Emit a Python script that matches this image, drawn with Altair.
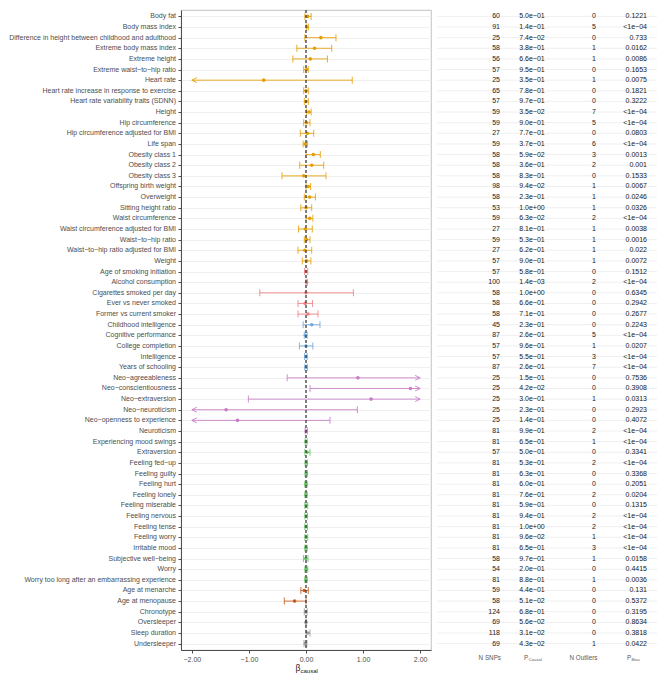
import altair as alt
import pandas as pd

labels = [
    "Body fat", "Body mass index", "Difference in height between childhood and adulthood",
    "Extreme body mass index", "Extreme height", "Extreme waist−to−hip ratio", "Heart rate",
    "Heart rate increase in response to exercise", "Heart rate variability traits (SDNN)",
    "Height", "Hip circumference", "Hip circumference adjusted for BMI", "Life span",
    "Obesity class 1", "Obesity class 2", "Obesity class 3", "Offspring birth weight",
    "Overweight", "Sitting height ratio", "Waist circumference",
    "Waist circumference adjusted for BMI", "Waist−to−hip ratio",
    "Waist−to−hip ratio adjusted for BMI", "Weight",
    "Age of smoking initiation", "Alcohol consumption", "Cigarettes smoked per day",
    "Ever vs never smoked", "Former vs current smoker",
    "Childhood intelligence", "Cognitive performance", "College completion", "Intelligence",
    "Years of schooling",
    "Neo−agreeableness", "Neo−conscientiousness", "Neo−extraversion", "Neo−neuroticism",
    "Neo−openness to experience", "Neuroticism",
    "Experiencing mood swings", "Extraversion", "Feeling fed−up", "Feeling guilty",
    "Feeling hurt", "Feeling lonely", "Feeling miserable", "Feeling nervous", "Feeling tense",
    "Feeling worry", "Irritable mood", "Subjective well−being", "Worry",
    "Worry too long after an embarrassing experience",
    "Age at menarche", "Age at menopause",
    "Chronotype", "Oversleeper", "Sleep duration", "Undersleeper",
]
groups = (["Anthropometric"] * 24 + ["Smoking"] * 5 + ["Cognitive"] * 5 +
          ["Personality"] * 6 + ["Mood"] * 14 + ["Reproductive"] * 2 + ["Sleep"] * 4)

beta = [0.03, 0.02, 0.26, 0.15, 0.075, 0.01, -0.74, 0.0, 0.0, 0.05,
        0.01, 0.025, -0.015, 0.13, 0.10, -0.04, 0.04, 0.065, 0.0, 0.065,
        -0.01, 0.01, -0.02, 0.01,
        0.0, 0.01, 0.0, -0.015, 0.035,
        0.10, -0.01, 0.0, 0.0, 0.0,
        0.91, 1.83, 1.14, -1.40, -1.20, 0.005,
        0.0, 0.02, 0.005, 0.005, 0.0, 0.0, 0.005, 0.005, 0.0, 0.005, 0.0, -0.005, 0.005, 0.0,
        -0.03, -0.20,
        -0.005, 0.0, 0.03, -0.01]
ci_low = [-0.02, 0.005, -0.02, -0.16, -0.23, -0.04, -2.29, -0.04, -0.03, 0.01,
          -0.04, -0.10, -0.05, 0.0, -0.11, -0.42, 0.0, -0.03, -0.09, 0.0,
          -0.13, -0.03, -0.14, -0.065,
          -0.025, 0.0, -0.81, -0.14, -0.14,
          -0.05, -0.03, -0.115, -0.025, -0.02,
          -0.33, 0.07, -1.01, -3.70, -2.82, -0.015,
          -0.015, -0.02, -0.015, -0.015, -0.02, -0.02, -0.02, -0.02, -0.02, -0.02, -0.02, -0.045, -0.02, -0.02,
          -0.09, -0.38,
          -0.03, -0.01, 0.0, -0.035]
ci_high = [0.09, 0.04, 0.525, 0.45, 0.375, 0.04, 0.81, 0.04, 0.04, 0.09,
           0.07, 0.135, 0.025, 0.25, 0.31, 0.35, 0.08, 0.165, 0.10, 0.12,
           0.11, 0.07, 0.10, 0.085,
           0.03, 0.025, 0.83, 0.115, 0.21,
           0.245, 0.02, 0.12, 0.02, 0.025,
           2.15, 3.59, 3.29, 0.90, 0.42, 0.025,
           0.02, 0.07, 0.025, 0.025, 0.02, 0.02, 0.03, 0.025, 0.025, 0.03, 0.02, 0.035, 0.03, 0.02,
           0.04, 0.0,
           0.02, 0.01, 0.07, 0.015]

n_snps = [60, 91, 25, 58, 56, 57, 25, 65, 57, 59, 59, 27, 59, 58, 58, 58, 98, 58, 53, 59,
          27, 59, 27, 57, 57, 100, 58, 58, 58, 45, 87, 57, 57, 87, 25, 25, 25, 25, 25, 81,
          81, 57, 81, 81, 81, 81, 81, 81, 81, 81, 81, 58, 54, 81, 59, 58, 124, 69, 118, 69]
p_causal = ["5.0e−01", "1.4e−01", "7.4e−02", "3.8e−01", "6.6e−01", "9.5e−01", "3.5e−01",
            "7.8e−01", "9.7e−01", "3.5e−02", "9.0e−01", "7.7e−01", "3.7e−01", "5.9e−02",
            "3.6e−01", "8.3e−01", "9.4e−02", "2.3e−01", "1.0e+00", "6.3e−02", "8.1e−01",
            "5.3e−01", "6.2e−01", "9.0e−01", "5.8e−01", "1.4e−03", "1.0e+00", "6.6e−01",
            "7.1e−01", "2.3e−01", "2.6e−01", "9.6e−01", "5.5e−01", "2.6e−01", "1.5e−01",
            "4.2e−02", "3.0e−01", "2.3e−01", "1.4e−01", "9.9e−01", "6.5e−01", "5.0e−01",
            "5.3e−01", "6.3e−01", "6.0e−01", "7.6e−01", "5.9e−01", "9.4e−01", "1.0e+00",
            "9.6e−02", "6.5e−01", "9.7e−01", "2.0e−01", "8.8e−01", "4.4e−01", "5.1e−02",
            "6.8e−01", "5.6e−02", "3.1e−02", "4.3e−02"]
n_outliers = [0, 5, 0, 1, 1, 0, 1, 0, 0, 7, 5, 0, 6, 3, 2, 0, 1, 1, 1, 2,
              1, 1, 1, 1, 0, 2, 0, 0, 0, 0, 5, 1, 3, 7, 0, 0, 1, 0, 0, 2,
              1, 0, 2, 0, 0, 2, 0, 2, 2, 1, 3, 1, 0, 1, 0, 0, 0, 0, 0, 1]
p_bias = ["0.1221", "<1e−04", "0.733", "0.0162", "0.0086", "0.1653", "0.0075", "0.1821",
          "0.3222", "<1e−04", "<1e−04", "0.0803", "<1e−04", "0.0013", "0.001", "0.1533",
          "0.0067", "0.0246", "0.0326", "<1e−04", "0.0038", "0.0016", "0.022", "0.0072",
          "0.1512", "<1e−04", "0.6345", "0.2942", "0.2677", "0.2243", "<1e−04", "0.0207",
          "<1e−04", "<1e−04", "0.7536", "0.3908", "0.0313", "0.2923", "0.4072", "<1e−04",
          "<1e−04", "0.3341", "<1e−04", "0.3368", "0.2051", "0.0204", "0.1315", "<1e−04",
          "<1e−04", "<1e−04", "<1e−04", "0.0158", "0.4415", "0.0036", "0.131", "0.5372",
          "0.3195", "0.8634", "0.3818", "0.0422"]

group_names = ["Anthropometric", "Smoking", "Cognitive", "Personality", "Mood", "Reproductive", "Sleep"]
group_colors = ["#E69F00", "#F08080", "#6FA8DC", "#C77CC7", "#66C266", "#C85A1E", "#999999"]

XMIN, XMAX = -2.0, 2.0
FONT = "Liberation Sans"
W, H = 250, 640
TW = 220

df = pd.DataFrame({
    "label": labels, "group": groups, "beta": beta, "lo": ci_low, "hi": ci_high,
    "nsnps": [str(v) for v in n_snps], "pcausal": p_causal,
    "nout": [str(v) for v in n_outliers], "pbias": p_bias,
})
df["lo_c"] = df["lo"].clip(lower=XMIN)
df["hi_c"] = df["hi"].clip(upper=XMAX)

yscale = alt.Scale(type="point", padding=0.6)
xscale = alt.Scale(domain=[-2.19, 2.19], nice=False, zero=False)
color = alt.Color("group:N", scale=alt.Scale(domain=group_names, range=group_colors), legend=None)

y_main = alt.Y("label:N", sort=labels, scale=yscale,
               axis=alt.Axis(title=None, labels=False,
                             tickSize=3, tickColor="#4D4D4D", domainColor="#4D4D4D",
                             grid=True, gridColor="#EBEBEB", gridWidth=0.8))
y_plain = alt.Y("label:N", sort=labels, scale=yscale)
x_main = alt.X("lo_c:Q", scale=xscale,
               axis=alt.Axis(title=None, values=[-2, -1.5, -1, -0.5, 0, 0.5, 1, 1.5, 2],
                             labelExpr="replace(format(datum.value, '.2f'), '-', '−')",
                             labelFontSize=7, labelFont=FONT, labelColor="#4D4D4D",
                             tickSize=3, tickColor="#4D4D4D", domainColor="#4D4D4D",
                             grid=False, labelPadding=2))

base = alt.Chart(df)
bars = base.mark_rule(strokeWidth=1, opacity=0.85).encode(
    x=x_main, x2="hi_c:Q", y=y_main, color=color)
row_labels = base.mark_text(align="right", baseline="middle", fontSize=7, font=FONT,
                            color="#4D4D4D", dx=-5).encode(
    x=alt.value(0), y=y_plain, text="label:N")
cap_lo = alt.Chart(df[df["lo"] >= XMIN]).mark_tick(size=7, thickness=1, opacity=0.85).encode(
    x=alt.X("lo:Q", scale=xscale), y=y_plain, color=color)
cap_hi = alt.Chart(df[df["hi"] <= XMAX]).mark_tick(size=7, thickness=1, opacity=0.85).encode(
    x=alt.X("hi:Q", scale=xscale), y=y_plain, color=color)
arr_lo = alt.Chart(df[df["lo"] < XMIN]).mark_point(
    shape="M 1 -0.5 L 0 0 L 1 0.5", filled=False, size=100, strokeWidth=1, opacity=0.85).encode(
    x=alt.X("lo_c:Q", scale=xscale), y=y_plain, color=color)
arr_hi = alt.Chart(df[df["hi"] > XMAX]).mark_point(
    shape="M -1 -0.5 L 0 0 L -1 0.5", filled=False, size=100, strokeWidth=1, opacity=0.85).encode(
    x=alt.X("hi_c:Q", scale=xscale), y=y_plain, color=color)
points = base.mark_circle(size=13, opacity=1).encode(
    x=alt.X("beta:Q", scale=xscale), y=y_plain, color=color)
zero = alt.Chart(pd.DataFrame({"z": [0]})).mark_rule(
    color="#3A3A3A", strokeDash=[3, 2], strokeWidth=1.3).encode(x=alt.X("z:Q", scale=xscale))
t_beta = alt.Chart(pd.DataFrame({"z": [0], "t": ["β"]})).mark_text(
    align="right", baseline="middle", fontSize=8.5, font=FONT, color="#1A1A1A", dx=-5.5).encode(
    x=alt.X("z:Q", scale=xscale), y=alt.value(H + 18), text="t:N")
t_sub = alt.Chart(pd.DataFrame({"z": [0], "t": ["causal"]})).mark_text(
    align="left", baseline="middle", fontSize=6, font=FONT, color="#1A1A1A", dx=-5.5).encode(
    x=alt.X("z:Q", scale=xscale), y=alt.value(H + 21), text="t:N")

main = alt.layer(bars, row_labels, cap_lo, cap_hi, arr_lo, arr_hi, points, zero, t_beta, t_sub).properties(
    width=W, height=H, view=alt.ViewBackground(stroke="#B3B3B3", strokeWidth=0.8))

# ---- table ----
y_tab = alt.Y("label:N", sort=labels, scale=yscale, axis=None)
tbase = alt.Chart(df)
grid = tbase.mark_rule(color="#EBEBEB", strokeWidth=0.8).encode(
    y=y_tab, x=alt.value(0), x2=alt.value(TW))
txt = dict(fontSize=7, font=FONT, color="#1A1A1A", baseline="middle")
c1 = tbase.mark_text(align="right", **txt).encode(y=y_tab, x=alt.value(63), text="nsnps:N")
c2 = tbase.mark_text(align="center", **txt).encode(y=y_tab, x=alt.value(95), text="pcausal:N")
c3 = tbase.mark_text(align="center", **txt).encode(y=y_tab, x=alt.value(157), text="nout:N")
c4 = tbase.mark_text(align="right", **txt).encode(y=y_tab, x=alt.value(210), text="pbias:N")

hdr = dict(font=FONT, color="#595959", baseline="middle")
def htext(t, x, y, size, align):
    return alt.Chart(pd.DataFrame({"t": [t]})).mark_text(align=align, fontSize=size, **hdr).encode(
        x=alt.value(x), y=alt.value(y), text="t:N")

headers = [
    htext("N SNPs", 64, H + 8, 6.3, "right"),
    htext("P", 87, H + 8, 6.3, "left"),
    htext("Causal", 91.5, H + 10, 4.3, "left"),
    htext("N Outliers", 146.5, H + 8, 6.3, "center"),
    htext("P", 190, H + 8, 6.3, "left"),
    htext("Bias", 194.5, H + 10, 4.3, "left"),
]

table = alt.layer(grid, c1, c2, c3, c4, *headers).properties(
    width=TW, height=H, view=alt.ViewBackground(stroke=None))

chart = alt.hconcat(main, table, spacing=4).properties(padding=0).configure(
    background="white")

chart.save("out.html", embed_options={"renderer": "svg", "actions": False})
